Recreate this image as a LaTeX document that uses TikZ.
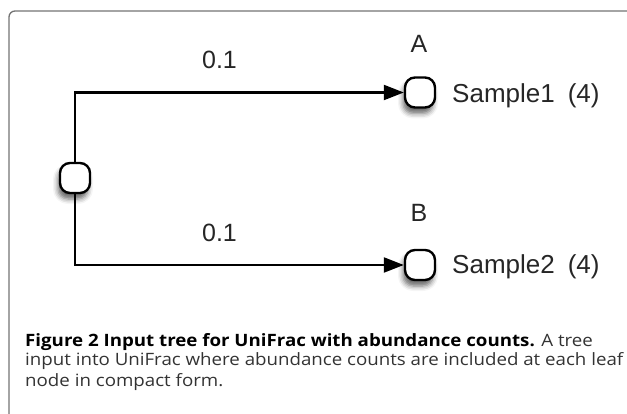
\documentclass[tikz,border=0pt]{standalone}
\usepackage{fontspec}
\setmainfont{Liberation Sans}
\newfontfamily\capfont[FakeStretch=1.1]{Open Sans}
\usetikzlibrary{arrows.meta,shadows.blur}

\begin{document}
\begin{tikzpicture}[x=1pt,y=-1pt,
    treenode/.style={draw,line width=2.4pt,rounded corners=10pt,fill=white,
      minimum width=30pt,minimum height=30pt,inner sep=0pt,
      blur shadow={shadow xshift=-2pt,shadow yshift=-6pt,shadow blur radius=5pt,shadow opacity=60}},
    lbl/.style={font=\fontsize{25}{30}\selectfont,text=black!85},
    branch/.style={line width=2.2pt,-{Triangle[length=20pt,width=15pt]}},
    captxt/.style={anchor=base west,inner sep=0pt,font=\capfont\fontsize{17}{20}\selectfont}]
    \useasboundingbox (0,0) rectangle (627,414);
    \draw[black!55,line width=1.3pt,rounded corners=6pt] (9,420) -- (9,11) -- (640,11);
    % tree
    \node[treenode] (root) at (75,178) {};
    \node[treenode] (A) at (420,92.5) {};
    \node[treenode] (B) at (420,265) {};
    \draw[branch] (root) |- (A);
    \draw[branch] (root) |- (B);
    \node[lbl] (nameA) at (419,44) {A};
    \node[lbl] (nameB) at (419,213) {B};
    \node[lbl] (lenA) at (219.5,60) {0.1};
    \node[lbl] (lenB) at (219.5,232.5) {0.1};
    \node[lbl,font=\fontsize{26}{30}\selectfont,anchor=base west,inner sep=0pt] (sampA) at (452,103) {Sample1\hspace{13pt}(4)};
    \node[lbl,font=\fontsize{26}{30}\selectfont,anchor=base west,inner sep=0pt] (sampB) at (452,274) {Sample2\hspace{13pt}(4)};
    % caption
    \node[captxt] (cap1) at (25,346) {\textbf{Figure 2 Input tree for UniFrac with abundance counts.} \textcolor{black!80}{A tree}};
    \node[captxt,text=black!80] (cap2) at (25,366) {input into UniFrac where abundance counts are included at each leaf};
    \node[captxt,text=black!80] (cap3) at (25,386) {node in compact form.};
\end{tikzpicture}
\end{document}
